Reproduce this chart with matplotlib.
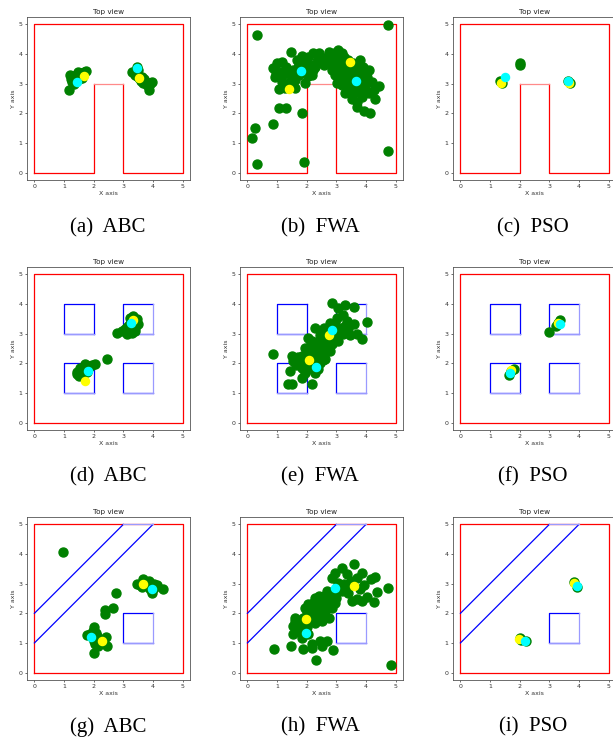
import matplotlib.pyplot as plt

# ---- particle positions per panel (green = swarm, yellow / cyan = best points)
# (a) ABC, U-shaped obstacle
a_gx = [1.17, 1.2, 1.46, 1.75, 1.26, 1.3, 1.4, 1.55, 1.62, 1.35, 1.5, 1.68, 1.22, 1.58, 1.42, 1.33, 1.48,
        3.29, 3.46, 3.54, 3.85, 3.96, 3.68, 3.4, 3.58, 3.75, 3.9, 3.62, 3.5, 3.8, 3.35, 3.7, 3.45, 3.65]
a_gy = [2.79, 3.29, 3.4, 3.44, 3.07, 3.2, 3.3, 3.35, 3.2, 3.0, 3.15, 3.38, 3.15, 3.25, 3.22, 3.1, 3.28,
        3.4, 3.57, 3.2, 2.79, 3.07, 3.01, 3.3, 3.1, 3.05, 3.0, 3.22, 3.45, 2.95, 3.35, 3.15, 3.25, 3.1]
a_yx, a_yy = [1.66, 3.54], [3.27, 3.2]
a_cx, a_cy = [1.45, 3.46], [3.06, 3.52]

# (b) FWA, U-shaped obstacle
b_gx = [0.32, 4.75, 0.24, 0.15, 0.32, 0.88, 1.05, 1.31, 1.84, 1.91, 4.75, 4.12, 3.92, 3.69, 4.31, 4.43,
        0.88, 0.99, 1.18, 1.48, 1.05, 1.27, 1.59, 1.16, 0.93, 1.1, 1.39, 1.61, 1.72, 1.95, 1.95, 2.17,
        2.29, 2.4, 2.23, 2.06, 2.46, 2.57, 1.67, 1.84, 2.12, 2.0, 1.5, 1.3, 1.44, 2.6, 2.35, 1.75,
        2.74, 2.91, 3.07, 3.19, 2.85, 3.02, 2.85, 2.96, 3.13, 3.3, 3.41, 3.58, 3.75, 3.81, 3.86, 4.03,
        4.09, 4.2, 3.97, 3.81, 3.58, 3.52, 3.69, 3.86, 4.09, 4.26, 3.3, 3.19, 3.02, 3.36, 3.52, 3.69,
        3.24, 3.41, 3.58, 3.75, 3.92, 3.07, 3.24, 3.36, 3.47, 3.15, 3.3, 3.45, 3.6, 3.0, 3.25, 3.4,
        3.55, 3.7, 3.1, 3.35, 2.95, 3.5, 3.65, 3.2,
        3.05, 3.15, 3.28, 3.38, 3.5, 3.62, 3.72, 3.1, 3.22, 3.33, 3.44, 3.56, 3.68, 3.18, 3.3,
        3.42, 3.54, 3.66, 3.8, 3.95, 4.0, 3.9, 2.9, 2.8, 1.85, 2.05, 2.2, 1.55, 1.2, 0.98]
b_gy = [4.64, 4.98, 1.52, 1.16, 0.28, 1.63, 2.17, 2.17, 2.0, 0.37, 0.74, 2.0, 2.08, 2.22, 2.48, 2.93,
        3.52, 3.69, 3.74, 4.06, 2.81, 2.84, 2.84, 3.07, 3.24, 3.4, 3.35, 3.12, 3.57, 3.74, 3.01, 3.28,
        3.57, 4.02, 4.02, 3.9, 3.85, 3.62, 3.8, 3.85, 3.62, 3.46, 3.18, 3.55, 3.07, 3.88, 3.75, 3.3,
        4.07, 4.02, 4.13, 4.02, 3.85, 3.68, 3.46, 3.29, 3.12, 3.18, 3.35, 3.46, 3.57, 3.8, 3.4, 3.24,
        3.46, 3.07, 2.9, 2.79, 2.67, 2.5, 2.39, 2.56, 2.67, 2.79, 2.67, 2.95, 3.01, 2.95, 2.9, 2.9,
        3.51, 3.69, 3.24, 3.29, 3.07, 3.35, 3.29, 3.12, 3.07, 3.6, 3.45, 3.55, 3.4, 3.85, 3.9, 3.8,
        3.7, 3.2, 3.2, 3.0, 3.55, 2.8, 3.6, 3.75,
        3.4, 3.3, 3.38, 3.25, 3.18, 3.12, 3.35, 3.55, 3.6, 3.5, 3.62, 3.3, 3.15, 3.02, 3.0,
        2.85, 2.95, 3.05, 2.72, 2.75, 3.15, 3.55, 3.95, 3.7, 3.95, 3.25, 3.45, 3.45, 3.3, 3.35]
b_yx, b_yy = [1.41, 3.47], [2.81, 3.74]
b_cx, b_cy = [1.81, 3.67], [3.43, 3.09]

# (c) PSO, U-shaped obstacle
c_gx = [2.0, 2.0, 1.35, 1.41, 3.69, 3.64]
c_gy = [3.63, 3.69, 3.09, 3.03, 3.01, 3.09]
c_yx, c_yy = [1.36, 3.67], [3.02, 3.03]
c_cx, c_cy = [1.5, 3.64], [3.21, 3.1]

# (d) ABC, four square obstacles
d_gx = [2.78, 2.95, 3.12, 3.29, 3.4, 3.18, 3.29, 3.34, 3.46, 3.12, 3.51, 3.23, 3.05, 3.38,
        1.43, 1.55, 1.71, 1.82, 2.05, 1.6, 1.55, 1.88, 1.43, 1.49, 1.71, 1.77, 2.44, 1.65, 1.95]
d_gy = [3.03, 3.09, 3.0, 3.03, 3.09, 3.29, 3.43, 3.6, 3.48, 3.24, 3.34, 3.54, 3.15, 3.2,
        1.63, 1.74, 1.99, 1.8, 1.99, 1.69, 1.85, 1.91, 1.72, 1.57, 1.88, 1.72, 2.15, 1.8, 1.95]
d_yx, d_yy = [3.32, 1.71], [3.46, 1.4]
d_cx, d_cy = [3.25, 1.8], [3.37, 1.74]

# (e) FWA, four square obstacles
e_gx = [2.85, 3.07, 3.3, 3.61, 4.02, 3.22, 3.86, 3.69, 3.47, 3.58, 3.41, 3.19, 2.96, 2.79, 2.57,
        2.68, 2.96, 3.07, 2.85, 2.62, 2.4, 2.17, 2.06, 1.95, 2.17, 2.4, 2.62, 2.79, 2.57, 2.34,
        2.06, 1.84, 1.73, 1.95, 2.17, 2.45, 2.62, 2.39, 2.06, 1.84, 1.5, 1.55, 0.88, 1.44, 1.38,
        1.5, 1.84, 2.17, 2.28, 1.95, 2.29, 2.45, 3.02, 3.36, 3.24, 2.5, 2.3, 2.7, 2.2, 2.0,
        2.45, 2.6, 2.25, 2.55, 2.35, 2.75, 2.9, 3.15, 3.3, 2.1, 1.9,
        2.3, 2.42, 2.52, 2.62, 2.72, 2.82, 2.35, 2.48, 2.58, 2.68, 2.2, 2.32, 2.45, 2.55, 2.12,
        2.25, 2.38, 2.5, 2.65, 2.78, 2.9, 3.0, 2.0, 2.15, 1.7, 1.65]
e_gy = [4.02, 3.88, 3.97, 3.91, 3.4, 3.63, 2.81, 3.0, 2.94, 3.31, 3.15, 3.2, 3.37, 3.37, 3.2,
        3.03, 2.99, 2.76, 2.65, 2.76, 2.76, 2.76, 2.87, 2.53, 2.53, 2.53, 2.47, 2.42, 2.25, 2.25,
        2.3, 2.25, 2.08, 2.02, 1.97, 2.02, 2.13, 1.8, 1.8, 1.85, 2.25, 2.08, 2.3, 1.74, 1.31,
        1.29, 1.52, 1.31, 1.69, 1.69, 3.2, 2.97, 3.54, 3.43, 2.99, 2.6, 2.4, 2.85, 2.2, 2.4,
        2.35, 2.9, 2.65, 2.1, 2.05, 2.6, 3.2, 3.05, 3.25, 2.6, 2.0,
        2.5, 2.62, 2.72, 2.82, 2.92, 3.02, 2.32, 2.42, 2.55, 2.65, 2.38, 2.15, 2.2, 2.32, 2.15,
        1.95, 2.1, 2.45, 2.75, 2.72, 2.85, 3.1, 2.15, 1.85, 2.2, 1.95]
e_yx, e_yy = [2.09, 2.76], [2.11, 2.94]
e_cx, e_cy = [2.32, 2.85], [1.89, 3.11]

# (f) PSO, four square obstacles
f_gx = [3.0, 3.24, 3.3, 3.36, 1.72, 1.81, 1.64]
f_gy = [3.07, 3.26, 3.37, 3.45, 1.74, 1.82, 1.61]
f_yx, f_yy = [3.3, 1.72], [3.37, 1.76]
f_cx, f_cy = [3.36, 1.67], [3.31, 1.66]

# (g) ABC, diagonal corridor
g_gx = [0.95, 2.75, 2.64, 2.39, 2.37, 2.02,
        3.46, 3.68, 3.85, 4.02, 4.13, 4.34, 3.9, 3.85, 3.96, 3.63, 3.75, 4.05, 3.55, 3.95,
        2.02, 2.03, 1.77, 1.93, 2.05, 2.22, 2.42, 2.44, 2.16, 2.1, 1.88, 1.98, 2.12, 2.0, 2.08]
g_gy = [4.07, 2.7, 2.17, 2.1, 1.99, 0.65,
        3.0, 3.15, 3.09, 3.0, 2.96, 2.81, 2.81, 2.92, 2.7, 2.88, 3.05, 2.85, 2.95, 2.95,
        1.54, 1.35, 1.27, 1.19, 0.96, 1.08, 1.2, 0.9, 0.9, 1.12, 1.29, 1.42, 1.25, 1.05, 1.35]
g_yx, g_yy = [3.68, 2.27], [3.0, 1.06]
g_cx, g_cy = [3.96, 1.9], [2.81, 1.19]

# (h) FWA, diagonal corridor
h_gx = [0.9, 1.48, 2.31, 2.89, 4.85, 4.76, 4.37, 4.26, 4.03, 4.18, 4.32, 3.86, 3.61, 3.36, 3.19,
        2.94, 2.85, 3.07, 3.19, 3.41, 3.69, 3.86, 3.52, 3.3, 3.81, 3.0, 2.79, 2.62, 2.45, 2.29,
        2.06, 1.95, 2.06, 2.17, 2.4, 2.62, 2.85, 2.96, 2.68, 2.45, 2.23, 1.89, 1.61, 1.55, 1.78,
        1.55, 1.84, 2.06, 2.17, 2.45, 2.68, 2.51, 1.89, 2.17, 1.95, 2.28, 2.51, 2.74, 2.4, 2.68,
        2.3, 2.5, 2.7, 2.2, 2.4, 2.6, 2.1, 2.35, 2.55, 2.8, 3.5, 3.7, 1.7, 2.0,
        2.15, 2.25, 2.35, 2.45, 2.55, 2.65, 2.75, 2.2, 2.3, 2.42, 2.52, 2.62, 2.72, 2.82, 2.0,
        2.1, 2.28, 2.38, 2.48, 2.58, 2.9, 3.1, 3.25, 3.45, 3.95, 1.7, 1.6]
h_gy = [0.79, 0.9, 0.42, 0.75, 0.25, 2.86, 2.72, 2.37, 2.54, 3.15, 3.22, 3.37, 3.67, 3.31, 3.54,
        3.37, 3.2, 3.03, 2.75, 2.7, 2.47, 2.42, 2.42, 2.92, 2.81, 2.53, 2.58, 2.47, 2.36, 2.36,
        2.3, 2.19, 2.08, 1.91, 1.97, 2.08, 2.19, 2.36, 2.25, 2.13, 2.13, 1.85, 1.83, 1.57, 1.52,
        1.29, 1.18, 1.29, 0.96, 1.07, 1.07, 0.9, 0.79, 0.84, 1.69, 1.69, 1.74, 1.85, 2.58, 2.76,
        2.25, 2.4, 2.45, 2.05, 2.2, 2.3, 1.95, 1.85, 2.0, 2.6, 3.1, 3.2, 1.7, 1.55,
        2.2, 2.05, 2.25, 2.3, 2.15, 2.4, 2.3, 2.35, 2.15, 2.45, 2.5, 2.2, 2.55, 2.45, 2.05,
        1.85, 2.5, 2.1, 1.95, 2.6, 2.7, 2.85, 3.0, 2.95, 2.95, 1.4, 1.75]
h_yx, h_yy = [1.98, 3.6], [1.82, 2.93]
h_cx, h_cy = [1.98, 2.96], [1.35, 2.87]

# (i) PSO, diagonal corridor
i_gx = [2.0, 2.06, 2.23, 3.83, 3.92]
i_gy = [1.18, 1.09, 1.05, 3.07, 2.89]
i_yx, i_yy = [1.98, 3.83], [1.12, 3.03]
i_cx, i_cy = [2.17, 3.92], [1.07, 2.92]

captions = ['(a)  ABC', '(b)  FWA', '(c)  PSO',
            '(d)  ABC', '(e)  FWA', '(f)  PSO',
            '(g)  ABC', '(h)  FWA', '(i)  PSO']

LIGHT_RED = '#ff8a8a'
LIGHT_BLUE = '#9a9aff'


def border(ax):
    ax.plot([0, 5, 5, 0, 0], [0, 0, 5, 5, 0], color='red', lw=0.9)


def env_u(ax):
    ax.plot([0, 2, 2], [0, 0, 3], color='red', lw=0.9)
    ax.plot([3, 3, 5, 5, 0, 0], [3, 0, 0, 5, 5, 0], color='red', lw=0.9)
    ax.plot([2, 3], [3, 3], color=LIGHT_RED, lw=0.9)


def square(ax, x0, y0):
    ax.plot([x0 + 1, x0, x0, x0 + 1], [y0, y0, y0 + 1, y0 + 1], color='blue', lw=0.9)
    rc = LIGHT_BLUE if x0 + 1 == 4 else 'blue'
    ax.plot([x0 + 1, x0 + 1], [y0 + 1, y0], color=rc, lw=0.9)
    ax.plot([x0, x0 + 1], [y0, y0], color=LIGHT_BLUE, lw=0.9)


def env_boxes(ax):
    border(ax)
    for x0, y0 in [(1, 1), (3, 1), (1, 3), (3, 3)]:
        square(ax, x0, y0)


def env_diag(ax):
    border(ax)
    ax.plot([0, 3], [2, 5], color='blue', lw=0.9)
    ax.plot([0, 4], [1, 5], color='blue', lw=0.9)
    ax.plot([3, 4], [5, 5], color=LIGHT_BLUE, lw=0.9)
    square(ax, 3, 1)


panels = [
    (env_u, a_gx, a_gy, a_yx, a_yy, a_cx, a_cy),
    (env_u, b_gx, b_gy, b_yx, b_yy, b_cx, b_cy),
    (env_u, c_gx, c_gy, c_yx, c_yy, c_cx, c_cy),
    (env_boxes, d_gx, d_gy, d_yx, d_yy, d_cx, d_cy),
    (env_boxes, e_gx, e_gy, e_yx, e_yy, e_cx, e_cy),
    (env_boxes, f_gx, f_gy, f_yx, f_yy, f_cx, f_cy),
    (env_diag, g_gx, g_gy, g_yx, g_yy, g_cx, g_cy),
    (env_diag, h_gx, h_gy, h_yx, h_yy, h_cx, h_cy),
    (env_diag, i_gx, i_gy, i_yx, i_yy, i_cx, i_cy),
]

W, H = 613, 739
fig = plt.figure(figsize=(W / 100, H / 100), dpi=100)

col_left = [27, 240, 453]
row_top = [17, 267, 517]
box = 163
cap_x = [108, 320, 533]
cap_y = [228, 477, 727]

for k, (env, gx, gy, yx, yy, cx, cy) in enumerate(panels):
    r, c = divmod(k, 3)
    ax = fig.add_axes([col_left[c] / W, 1 - (row_top[r] + box) / H, box / W, box / H])
    env(ax)
    ax.scatter(gx, gy, s=42, color='green', zorder=3)
    ax.scatter(yx, yy, s=34, color='yellow', zorder=4)
    ax.scatter(cx, cy, s=34, color='cyan', zorder=5)
    ax.set_xlim(-0.25, 5.25)
    ax.set_ylim(-0.25, 5.25)
    ax.set_xticks(range(6))
    ax.set_yticks(range(6))
    ax.tick_params(labelsize=4.5, length=1.6, width=0.5, pad=1.5, colors='#333')
    for sp in ax.spines.values():
        sp.set_linewidth(0.6)
        sp.set_color('#555')
    ax.set_title('Top view', fontsize=5.2, pad=2.5, color='#222')
    ax.set_xlabel('X axis', fontsize=4.5, labelpad=1, color='#333')
    ax.set_ylabel('Y axis', fontsize=4.5, labelpad=2, color='#333')
    fig.text(cap_x[c] / W, 1 - cap_y[r] / H, captions[k], ha='center', va='center',
             family='Liberation Serif', fontsize=15)

fig.savefig('out.png', dpi=100)
